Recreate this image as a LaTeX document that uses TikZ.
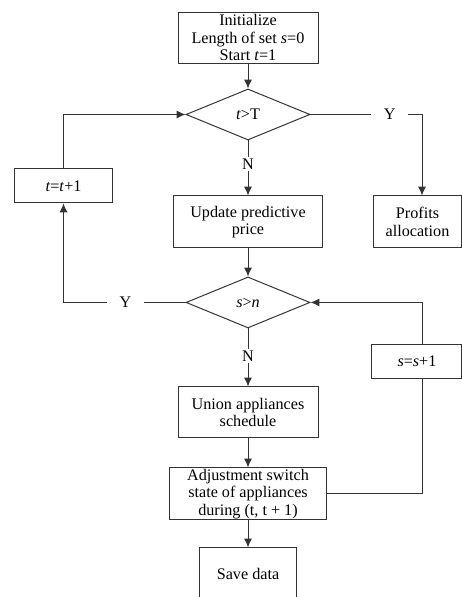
\documentclass[tikz,border=0pt]{standalone}
\usepackage{fontspec}
\setmainfont{Liberation Serif}
\usetikzlibrary{positioning,arrows.meta,shapes.geometric}

\begin{document}
\begin{tikzpicture}[
    box/.style={draw=black!80, line width=0.7pt, rectangle, align=center, inner xsep=1pt, inner ysep=0pt, font=\fontsize{11.5}{12.4}\selectfont},
    decide/.style={draw=black!80, line width=0.7pt, diamond, inner sep=1pt, minimum width=31mm, minimum height=12.75mm, font=\fontsize{11.5}{13}\selectfont},
    lab/.style={inner xsep=3mm, inner ysep=1pt, font=\fontsize{11.5}{13}\selectfont},
    line/.style={draw=black!80, line width=0.7pt},
    arrow/.style={line, -{Latex[length=2.2mm,width=2mm]}}
]
\useasboundingbox (0,0) rectangle (115.5mm,-149.25mm);

% Columna principal
\node[box, minimum width=35mm, minimum height=12.75mm] (init) at (62mm,-9.375mm) {Initialize\\Length of set \textit{s}=0\\Start \textit{t}=1};
\node[decide, below=6.25mm of init] (tT) {\textit{t}>T};
\node[box, below=13.75mm of tT, minimum width=37.25mm, minimum height=13mm] (update) {Update predictive\\price};
\node[decide, below=7mm of update] (sn) {\textit{s}>\textit{n}};
\node[box, below=14.5mm of sn, minimum width=35mm, minimum height=12.75mm] (union) {Union appliances\\schedule};
\node[box, below=7.25mm of union, minimum width=39.25mm, minimum height=13mm] (adjust) {Adjustment switch\\state of appliances\\during (t, t + 1)};
\node[box, below=6.75mm of adjust, minimum width=24.25mm, minimum height=13mm] (save) {Save data};

% Ramas laterales
\node[box, right=12.5mm of update, minimum width=22mm, minimum height=13mm] (profits) {Profits\\allocation};
\node[box, left=15mm of update, yshift=9mm, minimum width=24.5mm, minimum height=8.5mm] (tinc) {\textit{t}=\textit{t}+1};
\node[box, right=15.25mm of sn, yshift=-14.75mm, minimum width=22.5mm, minimum height=8.5mm] (sinc) {\textit{s}=\textit{s}+1};
\coordinate (rcol) at (105.5mm,0);

% Etiquetas
\node[lab, right=15.25mm of tT] (yT) {Y};
\node[lab, left=10.5mm of sn] (yS) {Y};
\node[lab, below=4.25mm of tT] (nT) {N};
\node[lab, below=5.25mm of sn] (nS) {N};

% Conexiones
\draw[arrow] (init) -- (tT);
\draw[line] (tT.south) -- (nT.north);
\draw[arrow] (nT.south) -- (update.north);
\draw[arrow] (update) -- (sn);
\draw[line] (sn.south) -- (nS.north);
\draw[arrow] (nS.south) -- (union.north);
\draw[arrow] (union) -- (adjust);
\draw[arrow] (adjust) -- (save);
\draw[line] (tT.east) -- (yT.west);
\draw[arrow] (yT.east) -| (rcol |- profits.north);
\draw[line] (sn.west) -- (yS.east);
\draw[arrow] (yS.west) -| (tinc.south);
\draw[arrow] (tinc.north) |- (tT.west);
\draw[line] (adjust.east) -| (rcol |- sinc.south);
\draw[arrow] (rcol |- sinc.north) |- (sn.east);

\end{tikzpicture}
\end{document}
